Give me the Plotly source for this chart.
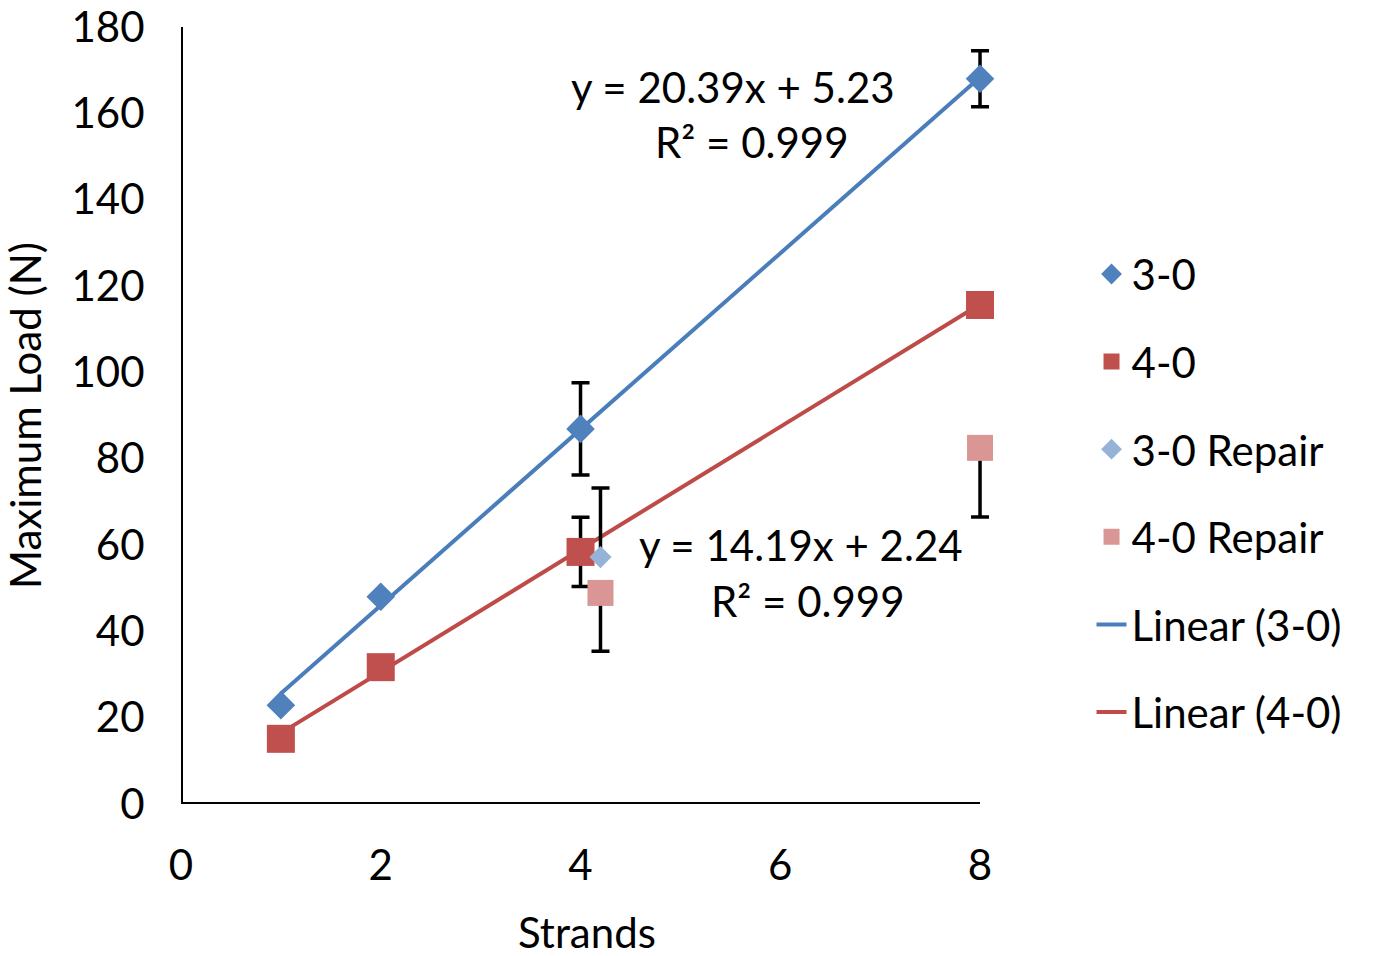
import plotly.graph_objects as go

# ---- data ----
strands = [1, 2, 4, 8]
load_30 = [22.9, 48.0, 86.9, 168.0]
err_30 = [0, 0, 10.7, 6.5]
load_40 = [15.1, 31.7, 58.4, 115.6]
err_40 = [0, 0, 8.0, 0]

repair_30_x = [4.2]
repair_30_y = [57.2]
repair_30_err_plus = [16.0]

repair_40_x = [4.2, 8]
repair_40_y = [48.9, 82.5]
repair_40_err_minus = [13.5, 16.0]

fit_30 = {"slope": 20.39, "intercept": 5.23}
fit_40 = {"slope": 14.19, "intercept": 2.24}
fit_x = [1, 8]

x_ticks = [0, 2, 4, 6, 8]
y_ticks = list(range(0, 181, 20))
x_axis_end = 8

FONT = "Lato"
FS = 42
BLUE = "#4F81BD"
BLUE_LINE = "#4A7EBB"
RED = "#C0504D"
RED_LINE = "#BE4B48"
LBLUE = "#95B3D7"
LRED = "#D99694"

def line_y(fit, xs):
    return [fit["slope"] * x + fit["intercept"] for x in xs]

fig = go.Figure()

eb = dict(color="black", thickness=3.5, width=9)

fig.add_trace(go.Scatter(
    x=fit_x, y=line_y(fit_30, fit_x), mode="lines", name="Linear (3-0)",
    line=dict(color=BLUE_LINE, width=4), legendrank=5, legendgroup="g5"))
fig.add_trace(go.Scatter(
    x=fit_x, y=line_y(fit_40, fit_x), mode="lines", name="Linear (4-0)",
    line=dict(color=RED_LINE, width=4), legendrank=6, legendgroup="g6"))

fig.add_trace(go.Scatter(
    x=strands, y=load_30, mode="markers", name="3-0",
    marker=dict(symbol="diamond", size=22, color=BLUE, line=dict(width=0)),
    error_y=dict(type="data", array=err_30, visible=True, **eb),
    legendrank=1, legendgroup="g1"))
fig.add_trace(go.Scatter(
    x=strands, y=load_40, mode="markers", name="4-0",
    marker=dict(symbol="square", size=28, color=RED, line=dict(width=0)),
    error_y=dict(type="data", array=err_40, visible=True, **eb),
    legendrank=2, legendgroup="g2"))
fig.add_trace(go.Scatter(
    x=repair_30_x, y=repair_30_y, mode="markers", name="3-0 Repair",
    marker=dict(symbol="diamond", size=17, color=LBLUE, line=dict(width=0)),
    error_y=dict(type="data", symmetric=False, array=repair_30_err_plus,
                 arrayminus=[0] * len(repair_30_x), visible=True, **eb),
    legendrank=3, legendgroup="g3"))
fig.add_trace(go.Scatter(
    x=repair_40_x, y=repair_40_y, mode="markers", name="4-0 Repair",
    marker=dict(symbol="square", size=26, color=LRED, line=dict(width=0)),
    error_y=dict(type="data", symmetric=False, array=[0] * len(repair_40_x),
                 arrayminus=repair_40_err_minus, visible=True, **eb),
    legendrank=4, legendgroup="g4"))

ann_font = dict(family=FONT, size=FS, color="black")
annotations = [
    dict(x=5.53, y=166.1, text="y = %.2fx + %.2f" % (fit_30["slope"], fit_30["intercept"])),
    dict(x=5.72, y=153.4, text="R² = 0.999"),
    dict(x=6.21, y=60.0, text="y = %.2fx + %.2f" % (fit_40["slope"], fit_40["intercept"])),
    dict(x=6.28, y=47.0, text="R² = 0.999"),
]
for a in annotations:
    a.update(xref="x", yref="y", showarrow=False, font=ann_font,
             xanchor="center", yanchor="middle")
# x-axis title (centred under the 0-8 axis line)
annotations.append(dict(x=0.4927, y=-0.1647, xref="paper", yref="paper",
                        text="Strands", showarrow=False, font=ann_font,
                        xanchor="center", yanchor="middle"))

# axis lines drawn in data coordinates (x line stops at 8; plot area extends so caps are not clipped)
shapes = [
    dict(type="line", xref="x", yref="y", x0=0, x1=x_axis_end, y0=0, y1=0,
         line=dict(color="black", width=4), layer="above"),
    dict(type="line", xref="x", yref="y", x0=0, x1=0, y0=0, y1=y_ticks[-1],
         line=dict(color="black", width=4), layer="above"),
]

fig.update_layout(
    width=1375, height=956,
    margin=dict(l=181, r=370, t=27, b=152),
    paper_bgcolor="white", plot_bgcolor="white",
    font=dict(family=FONT, size=FS, color="black"),
    annotations=annotations,
    shapes=shapes,
    showlegend=True,
    legend=dict(x=1.105, y=0.40, xanchor="left", yanchor="middle",
                traceorder="grouped", tracegroupgap=30,
                font=dict(family=FONT, size=FS, color="black"),
                bgcolor="rgba(0,0,0,0)"),
)
fig.update_traces(cliponaxis=False)

fig.update_xaxes(
    range=[0, 8.25], tickvals=x_ticks, ticktext=[str(v) for v in x_ticks],
    showline=False, showgrid=False, zeroline=False, automargin=False,
    ticks="outside", ticklen=25, tickcolor="rgba(0,0,0,0)",
    tickfont=dict(family=FONT, size=FS))
fig.update_yaxes(
    range=[0, 180], tickvals=y_ticks, ticktext=[str(v) for v in y_ticks],
    showline=False, showgrid=False, zeroline=False,
    automargin=False,
    ticks="outside", ticklen=27, tickcolor="rgba(0,0,0,0)",
    tickfont=dict(family=FONT, size=FS),
    title=dict(text="Maximum Load (N)", font=dict(family=FONT, size=FS), standoff=16))

fig.write_html("out.html")
